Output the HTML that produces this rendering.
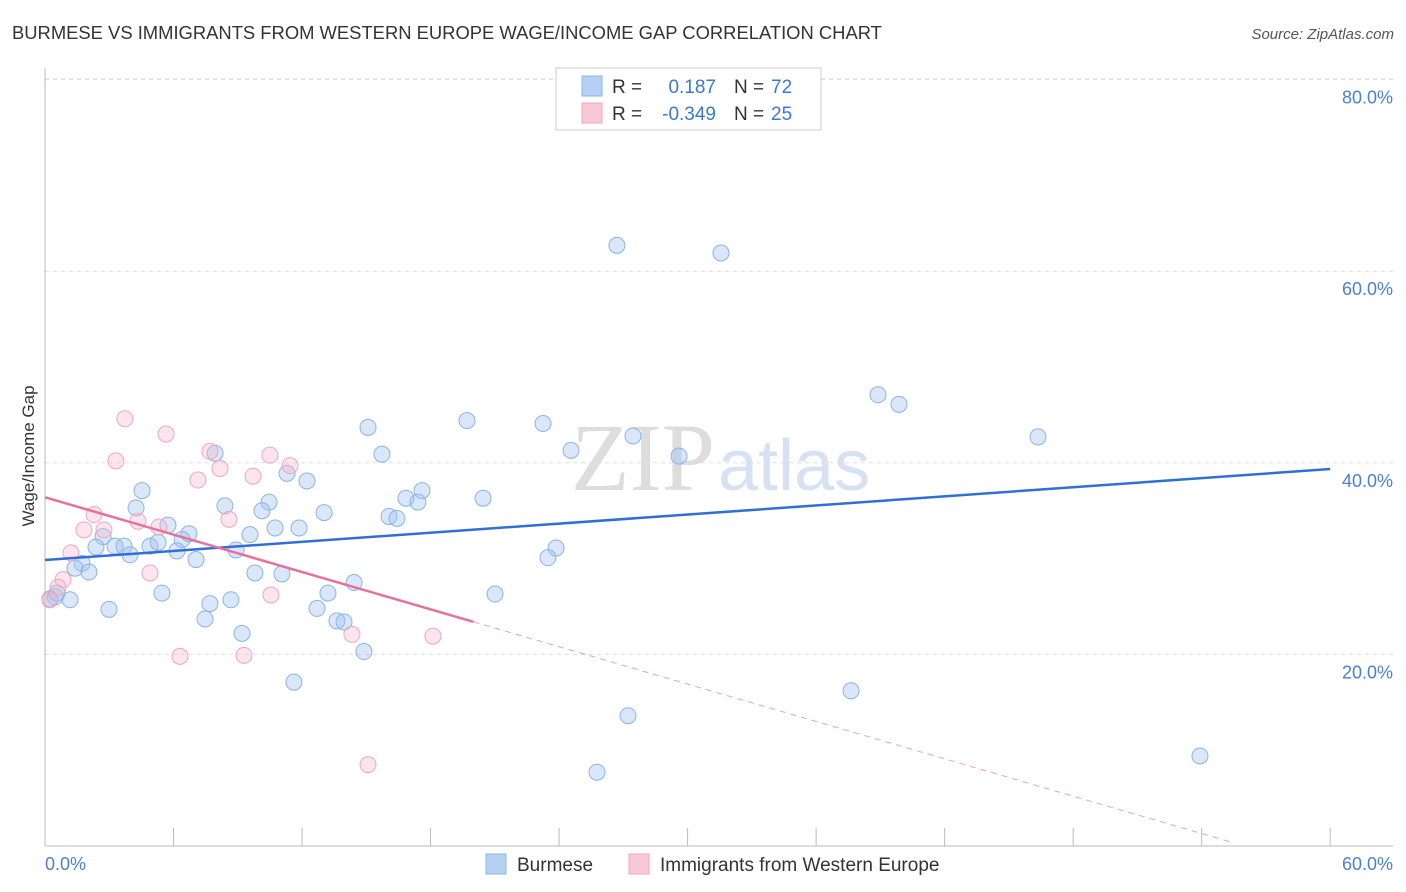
<!DOCTYPE html>
<html><head><meta charset="utf-8"><style>
body{margin:0;background:#fff;font-family:"Liberation Sans",sans-serif;}
svg{display:block}
</style></head><body>
<svg width="1406" height="892" xmlns="http://www.w3.org/2000/svg">
<text x="12" y="39" font-size="18.4" fill="#333">BURMESE VS IMMIGRANTS FROM WESTERN EUROPE WAGE/INCOME GAP CORRELATION CHART</text>
<text x="1394" y="39" font-size="15" fill="#555" font-style="italic" text-anchor="end">Source: ZipAtlas.com</text>
<text x="715" y="490" font-size="96" fill="#ddd" text-anchor="end" font-family="Liberation Serif,serif">ZIP</text>
<text x="718" y="490" font-size="72" fill="#d6e2f3">atlas</text>
<g id="grid"></g>
<g id="axes"></g>
<g id="marks"></g>
<text transform="translate(34,456) rotate(-90)" font-size="17" fill="#333" text-anchor="middle">Wage/Income Gap</text>
<text x="45" y="870" font-size="18" fill="#4a7fd6">0.0%</text>
<text x="1393" y="870" font-size="18" fill="#4a7fd6" text-anchor="end">60.0%</text>
<g>
<rect x="556" y="68" width="265" height="62" fill="#fff" stroke="#ccc"/>
<rect x="582" y="76" width="20" height="20" fill="#b8d0f3" stroke="#8ab4e8"/>
<rect x="582" y="103" width="20" height="20" fill="#f8c8d6" stroke="#f0a6bd"/>
<text x="612" y="93" font-size="19" fill="#333">R =</text>
<text x="716" y="93" font-size="19" fill="#3a78d8" text-anchor="end">0.187</text>
<text x="734" y="93" font-size="19" fill="#333">N =</text>
<text x="771" y="93" font-size="19" fill="#3a78d8">72</text>
<text x="612" y="120" font-size="19" fill="#333">R =</text>
<text x="716" y="120" font-size="19" fill="#3a78d8" text-anchor="end">-0.349</text>
<text x="734" y="120" font-size="19" fill="#333">N =</text>
<text x="771" y="120" font-size="19" fill="#3a78d8">25</text>
</g>
<g>
<rect x="486" y="854" width="20" height="20" fill="#b8d0f3" stroke="#8ab4e8"/>
<text x="517" y="871" font-size="19" fill="#333">Burmese</text>
<rect x="629" y="854" width="20" height="20" fill="#f8c8d6" stroke="#f0a6bd"/>
<text x="660" y="871" font-size="19" fill="#333">Immigrants from Western Europe</text>
</g>
</svg>
<script>
const yTicks=[20,40,60,80];
const xTicks=[0,6,12,18,24,30,36,42,48,54,60];
const blueX=[26.70,31.56,38.89,39.87,46.36,19.70,23.25,15.08,27.45,24.56,29.60,15.73,7.94,11.30,12.23,4.53,16.85,17.60,20.45,17.41,16.06,16.43,10.46,8.40,10.13,13.03,4.25,5.74,6.72,10.74,11.86,9.57,2.71,2.38,3.27,3.69,4.90,5.28,6.40,6.16,3.97,8.92,23.86,23.48,7.05,1.73,1.40,2.05,9.80,11.06,14.43,5.46,13.21,21.01,8.68,7.70,2.99,12.70,1.17,0.47,0.23,7.47,13.63,13.96,9.20,14.89,11.62,37.63,27.22,25.77,53.92,0.56];
const blueY=[62.7,61.9,47.1,46.1,42.7,44.4,44.1,43.7,42.8,41.3,40.7,40.9,41.0,38.9,38.1,37.1,36.3,37.1,36.3,35.9,34.4,34.2,35.9,35.5,35.0,34.8,35.3,33.5,32.6,33.2,33.2,32.5,32.3,31.2,31.3,31.3,31.3,31.7,32.0,30.8,30.4,30.9,31.1,30.1,29.9,29.5,29.0,28.6,28.5,28.4,27.5,26.4,26.4,26.3,25.7,25.3,24.7,24.8,25.7,26.0,25.8,23.7,23.5,23.4,22.2,20.3,17.1,16.2,13.6,7.7,9.4,26.4];
const pinkX=[3.73,5.65,7.70,3.31,10.50,11.44,8.17,9.71,7.14,2.29,4.34,8.59,1.82,2.75,5.32,1.21,4.90,0.84,0.61,10.55,14.33,18.11,6.30,9.29,15.08,0.23];
const pinkY=[44.6,43.0,41.2,40.2,40.8,39.7,39.4,38.6,38.2,34.6,33.9,34.1,33.0,33.0,33.3,30.6,28.5,27.8,27.0,26.2,22.1,21.9,19.8,19.9,8.5,25.7];
const blueTrend=[29.85,39.35];
const pinkTrend=[36.4,-0.65];
const pinkSolidEnd=20, pinkDashEnd=55.5;
const NS='http://www.w3.org/2000/svg';
const sx=v=>45+v*21.42, sy=v=>846-v*9.58;
function mk(tag,attrs,parent){const e=document.createElementNS(NS,tag);for(const k in attrs)e.setAttribute(k,attrs[k]);parent.appendChild(e);return e;}
const grid=document.getElementById('grid'),axes=document.getElementById('axes'),marks=document.getElementById('marks');
const topGrid=mk('line',{x1:45,x2:1393,y1:79,y2:79,stroke:'#ddd','stroke-dasharray':'4,4'},grid);


yTicks.forEach(t=>{
 const l=mk('line',{x1:45,x2:1393,y1:sy(t),y2:sy(t),stroke:'#ddd','stroke-dasharray':'4,4'},grid);
 
 
 const tx=mk('text',{x:1393,y:sy(t)+24,'font-size':18,fill:'#4a7fd6','text-anchor':'end'},grid);
 tx.textContent=t.toFixed(1)+'%';
 
 
});
const ya=mk('line',{x1:45,x2:45,y1:68,y2:846,stroke:'#bbb'},axes);


const xa=mk('line',{x1:45,x2:1393,y1:846,y2:846,stroke:'#bbb'},axes);


xTicks.forEach(t=>{
 const l=mk('line',{x1:sx(t),x2:sx(t),y1:828,y2:846,stroke:'#bbb'},axes);
 
 
});
blueX.forEach((x,i)=>{
 const c=mk('circle',{cx:sx(x),cy:sy(blueY[i]),r:8,fill:'rgba(160,195,240,0.4)',stroke:'#8ab4e8','stroke-width':1},marks);
 
 
});
pinkX.forEach((x,i)=>{
 const c=mk('circle',{cx:sx(x),cy:sy(pinkY[i]),r:8,fill:'rgba(245,180,200,0.35)',stroke:'#f0a6bd','stroke-width':1},marks);
 
 
});
const bl=mk('line',{x1:sx(0),y1:sy(blueTrend[0]),x2:sx(60),y2:sy(blueTrend[1]),stroke:'#2f6fd6','stroke-width':2.5},marks);


const pv=x=>pinkTrend[0]+pinkTrend[1]*x;
const pl=mk('line',{x1:sx(0),y1:sy(pv(0)),x2:sx(pinkSolidEnd),y2:sy(pv(pinkSolidEnd)),stroke:'#e8709a','stroke-width':2.5},marks);


const pd=mk('line',{x1:sx(pinkSolidEnd),y1:sy(pv(pinkSolidEnd)),x2:sx(pinkDashEnd),y2:sy(pv(pinkDashEnd)),stroke:'#eea0b8','stroke-width':1,'stroke-dasharray':'6,5'},marks);


</script>
</body></html>
